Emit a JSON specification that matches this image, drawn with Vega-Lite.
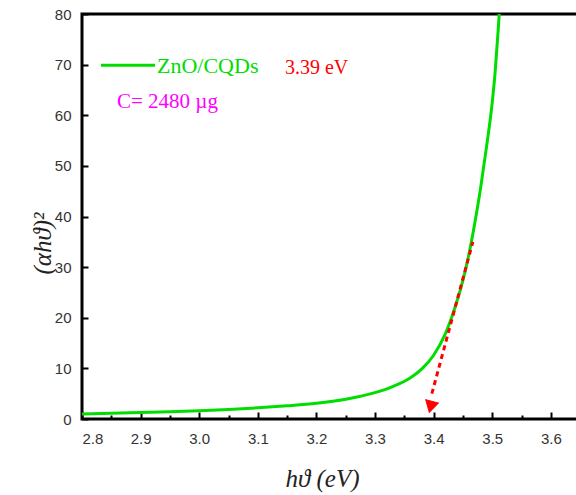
{
  "$schema": "https://vega.github.io/schema/vega-lite/v6.json",
  "autosize": {"type": "none"},
  "padding": {"left": 82, "top": 14, "right": 0, "bottom": 76},
  "width": 496,
  "height": 405,
  "background": "white",
  "config": {
    "view": {"stroke": "black", "strokeWidth": 3},
    "axis": {"grid": false, "domain": false, "zindex": 1, "labelFont": "Liberation Sans", "labelFontSize": 15, "labelColor": "#333333", "tickColor": "black", "tickWidth": 2}
  },
  "datasets": {
    "curve": [
      {"x": 2.80, "y": 1.0}, {"x": 2.85, "y": 1.15}, {"x": 2.90, "y": 1.3}, {"x": 2.95, "y": 1.45},
      {"x": 3.00, "y": 1.65}, {"x": 3.05, "y": 1.9}, {"x": 3.10, "y": 2.2}, {"x": 3.15, "y": 2.6},
      {"x": 3.20, "y": 3.1}, {"x": 3.25, "y": 3.9}, {"x": 3.30, "y": 5.2}, {"x": 3.33, "y": 6.4},
      {"x": 3.36, "y": 8.1}, {"x": 3.38, "y": 9.9}, {"x": 3.40, "y": 12.6}, {"x": 3.42, "y": 16.8},
      {"x": 3.43, "y": 19.8}, {"x": 3.44, "y": 23.3}, {"x": 3.45, "y": 27.4}, {"x": 3.46, "y": 32.4},
      {"x": 3.47, "y": 38.5}, {"x": 3.48, "y": 45.5}, {"x": 3.49, "y": 53.5}, {"x": 3.50, "y": 62.5},
      {"x": 3.505, "y": 68.5}, {"x": 3.51, "y": 76.5}, {"x": 3.512, "y": 80.0}
    ],
    "legendline": [{"x": 2.8324, "y": 69.9}, {"x": 2.9246, "y": 69.9}],
    "tangent": [{"x": 3.467, "y": 35.0}, {"x": 3.397, "y": 5.0}],
    "arrow": [{"x": 3.395, "y": 2.4}],
    "lbl1": [{"x": 2.928, "y": 69.7, "label": "ZnO/CQDs"}],
    "lbl2": [{"x": 3.1464, "y": 69.3, "label": "3.39 eV"}],
    "lbl3": [{"x": 2.8597, "y": 62.6, "label": "C= 2480 µg"}]
  },
  "layer": [
    {
      "data": {"name": "curve"},
      "mark": {"type": "line", "color": "#00dd00", "strokeWidth": 3, "clip": true, "interpolate": "monotone"},
      "encoding": {
        "x": {"field": "x", "type": "quantitative",
          "scale": {"domain": [2.8, 3.6464], "nice": false, "zero": false},
          "axis": {"orient": "bottom", "values": [2.8, 2.9, 3.0, 3.1, 3.2, 3.3, 3.4, 3.5, 3.6], "format": ".1f",
            "offset": -7, "tickSize": 7, "labelPadding": 12,
            "title": "hϑ (eV)", "titleFont": "Liberation Serif", "titleFontStyle": "italic", "titleFontWeight": "normal", "titleFontSize": 25, "titleColor": "#222222",
            "titleX": 240, "titleY": 66, "titleBaseline": "middle"}},
        "y": {"field": "y", "type": "quantitative",
          "scale": {"domain": [0, 80], "nice": false},
          "axis": {"values": [0, 10, 20, 30, 40, 50, 60, 70, 80], "offset": -6, "tickSize": 6, "labelPadding": 11,
            "title": "(αhϑ)²", "titleFont": "Liberation Serif", "titleFontStyle": "italic", "titleFontWeight": "normal", "titleFontSize": 25, "titleColor": "#222222",
            "titleX": -46, "titleY": 229, "titleBaseline": "middle", "titleAngle": -90}}
      }
    },
    {
      "data": {"name": "legendline"},
      "mark": {"type": "line", "color": "#00dd00", "strokeWidth": 3},
      "encoding": {
        "x": {"field": "x", "type": "quantitative",
          "axis": {"orient": "bottom", "values": [2.85, 2.95, 3.05, 3.15, 3.25, 3.35, 3.45, 3.55], "offset": -4, "tickSize": 4, "labels": false, "title": null}},
        "y": {"field": "y", "type": "quantitative"}
      }
    },
    {
      "data": {"name": "tangent"},
      "mark": {"type": "line", "color": "#ff0000", "strokeWidth": 3, "strokeDash": [5, 4]},
      "encoding": {
        "x": {"field": "x", "type": "quantitative", "axis": null},
        "y": {"field": "y", "type": "quantitative"}
      }
    },
    {
      "data": {"name": "arrow"},
      "mark": {"type": "point", "shape": "triangle-down", "filled": true, "fill": "#ff0000", "stroke": "#ff0000", "strokeWidth": 1, "size": 170, "angle": 14, "opacity": 1, "fillOpacity": 1},
      "encoding": {
        "x": {"field": "x", "type": "quantitative", "axis": null},
        "y": {"field": "y", "type": "quantitative"}
      }
    },
    {
      "data": {"name": "lbl1"},
      "mark": {"type": "text", "font": "Liberation Serif", "fontSize": 22, "color": "#00dd00", "align": "left", "baseline": "middle"},
      "encoding": {
        "x": {"field": "x", "type": "quantitative", "axis": null},
        "y": {"field": "y", "type": "quantitative"},
        "text": {"field": "label"}
      }
    },
    {
      "data": {"name": "lbl2"},
      "mark": {"type": "text", "font": "Liberation Serif", "fontSize": 20, "color": "#ff0000", "align": "left", "baseline": "middle"},
      "encoding": {
        "x": {"field": "x", "type": "quantitative", "axis": null},
        "y": {"field": "y", "type": "quantitative"},
        "text": {"field": "label"}
      }
    },
    {
      "data": {"name": "lbl3"},
      "mark": {"type": "text", "font": "Liberation Serif", "fontSize": 21, "color": "#ff00ff", "align": "left", "baseline": "middle"},
      "encoding": {
        "x": {"field": "x", "type": "quantitative", "axis": null},
        "y": {"field": "y", "type": "quantitative"},
        "text": {"field": "label"}
      }
    }
  ],
  "resolve": {"axis": {"x": "independent"}}
}
